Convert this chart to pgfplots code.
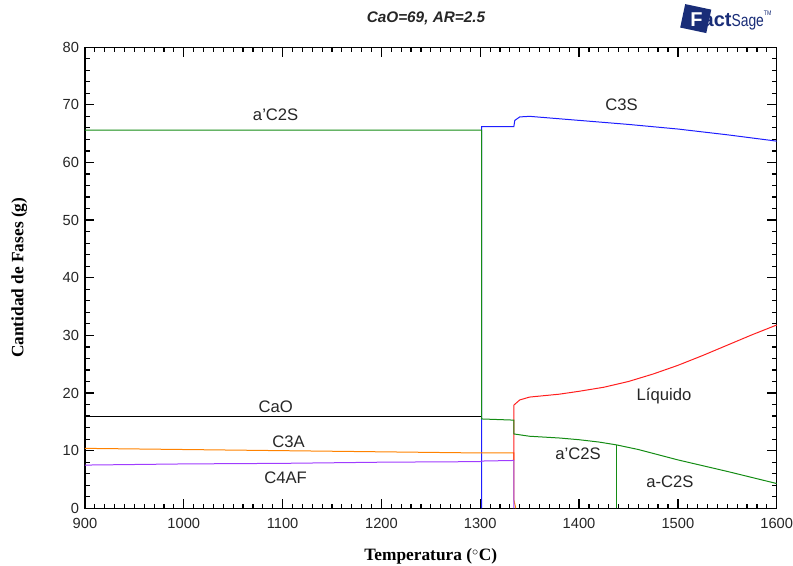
\documentclass[border=0pt]{standalone}
\usepackage{pgfplots}
\pgfplotsset{compat=1.18}
\usepackage{fontspec}
\setmainfont{Liberation Sans}
\newfontfamily\tnr{Liberation Serif}
\definecolor{cgreen}{RGB}{20,140,20}
\definecolor{cblue}{RGB}{30,30,255}
\definecolor{cred}{RGB}{255,30,30}
\definecolor{corange}{RGB}{255,130,0}
\definecolor{cpurple}{RGB}{160,60,255}
\definecolor{fsblue}{RGB}{25,45,120}
\begin{document}
\begin{tikzpicture}
\useasboundingbox (-63.75pt,-43.1pt) rectangle (531.25pt,381.4pt);
\begin{axis}[
  scale only axis, width=519pt, height=346pt,
  at={(0,0)}, anchor=south west,
  xmin=900, xmax=1600, ymin=0, ymax=80,
  xtick={900,1000,...,1600}, ytick={0,10,...,80},
  minor xtick={900,910,...,1600}, minor ytick={0,2,...,80},
  tick align=inside,
  xtick pos=both, ytick pos=both,
  major tick length=7pt, minor tick length=3.5pt,
  every major tick/.append style={draw=black, line width=1pt},
  every minor tick/.append style={draw=black, line width=0.9pt},
  axis line style={line width=0.9pt},
  ticklabel style={font=\fontsize{11}{13}\selectfont, text=black!85, /pgf/number format/assume math mode=true, /pgf/number format/1000 sep={}},
  xticklabel style={yshift=-4pt},
  yticklabel style={xshift=-1pt},
  xlabel={\tnr\bfseries Temperatura ($^{\circ}$C)},
  ylabel={\tnr\bfseries Cantidad de Fases (g)},
  xlabel style={at={(axis description cs:0.5,-0.105)}, anchor=center, font=\fontsize{13}{15}\selectfont},
  ylabel style={at={(axis description cs:-0.095,0.5)}, anchor=center, font=\fontsize{13}{15}\selectfont},
  clip=false,
  every axis plot/.append style={line width=0.75pt},
]
% blue C3S
\addplot[cblue] coordinates {(1301.5,0) (1301.5,66.2) (1334,66.2) (1335,67.3) (1340,67.9) (1350,68.0) (1400,67.3) (1450,66.6) (1500,65.8) (1550,64.8) (1600,63.7)};
% black CaO
\addplot[black] coordinates {(900,16.0) (1301.5,16.0)};
% orange C3A
\addplot[corange] coordinates {(900,10.4) (1000,10.2) (1100,10.0) (1200,9.8) (1300,9.6) (1334,9.6) (1334,1.5) (1336,0)};
% red liquid
\addplot[cred] coordinates {(1334,8.3) (1334,17.9) (1340,18.8) (1350,19.3) (1380,19.8) (1400,20.3) (1425,21.0) (1450,22.0) (1475,23.3) (1500,24.8) (1525,26.5) (1550,28.3) (1575,30.1) (1600,31.8)};
% purple C4AF
\addplot[cpurple] coordinates {(900,7.5) (1000,7.7) (1100,7.8) (1200,8.0) (1300,8.1) (1301.5,8.2) (1334,8.3) (1334,0)};
% green a'C2S
\addplot[cgreen] coordinates {(900,65.6) (1301.5,65.6) (1301.5,15.5) (1334,15.3) (1334,12.9) (1350,12.5) (1380,12.2) (1400,11.9) (1420,11.5) (1438,11.0) (1460,10.2) (1500,8.4) (1550,6.4) (1600,4.3)};
% green a-C2S boundary
\addplot[cgreen] coordinates {(1438,0) (1438,11.0)};
% labels
\begin{scope}[every node/.style={font=\fontsize{12.5}{14}\selectfont, text=black!85}]
\node at (axis cs:1093,68.2) {a'C2S};
\node at (axis cs:1443,70.0) {C3S};
\node at (axis cs:1093,17.6) {CaO};
\node at (axis cs:1106,11.6) {C3A};
\node at (axis cs:1103,5.3) {C4AF};
\node at (axis cs:1486,19.5) {Líquido};
\node at (axis cs:1399,9.5) {a'C2S};
\node at (axis cs:1492,4.6) {a-C2S};
\end{scope}
\node[font=\fontsize{11.5}{13}\selectfont\bfseries\itshape, text=black!85] at (axis description cs:0.493,1.062) {CaO=69, AR=2.5};
% logo
\fill[fsblue, rotate around={-12:(axis description cs:0.883,1.062)}] ([xshift=-10pt,yshift=-9pt]axis description cs:0.883,1.062) rectangle ([xshift=10pt,yshift=9pt]axis description cs:0.883,1.062);
\node[anchor=west, inner sep=0pt, text=fsblue, font=\fontsize{15}{16}\selectfont\bfseries] at (axis description cs:0.875,1.058) {\textcolor{white}{F}act\fontsize{13}{14}\selectfont\mdseries\addfontfeature{FakeStretch=0.8}Sage\raisebox{1.2ex}{\fontsize{5}{5}\selectfont TM}};
\end{axis}
\end{tikzpicture}
\end{document}
